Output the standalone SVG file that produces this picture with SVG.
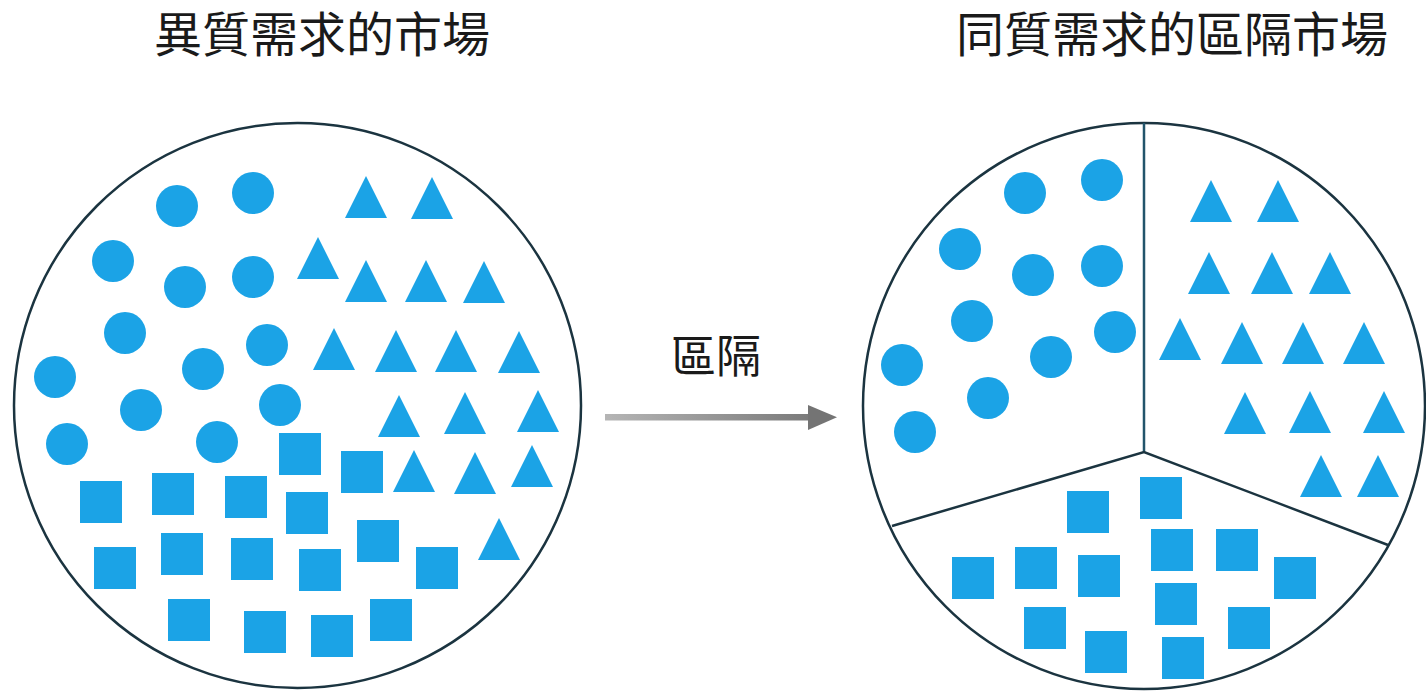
<svg xmlns="http://www.w3.org/2000/svg" xmlns:xlink="http://www.w3.org/1999/xlink" width="1426" height="694" viewBox="0 0 1426 694">
  <style>
    .title { font-family: "Liberation Sans", "Noto Sans CJK TC", sans-serif; font-size: 48px; fill: #1a1a1a; text-anchor: middle; }
    .label { font-family: "Liberation Sans", "Noto Sans CJK TC", sans-serif; font-size: 45px; fill: #1a1a1a; text-anchor: middle; }
    .market { fill: #ffffff; stroke: #1b3440; stroke-width: 2.5; }
    .divider { fill: none; stroke: #1b3440; stroke-width: 2.5; }
    .divider-v { fill: none; stroke: #22546b; stroke-width: 2.5; }
    .shape { fill: #1ba3e6; }
  </style>
  <defs>
    <circle id="dot" cx="0" cy="0" r="21" class="shape"/>
    <polygon id="tri" points="0,0 21,42 -21,42" class="shape"/>
    <rect id="sq" x="0" y="0" width="42" height="42" class="shape"/>
    <linearGradient id="arrowGrad" x1="0" y1="0" x2="1" y2="0">
      <stop offset="0" stop-color="#b5b5b5"/>
      <stop offset="1" stop-color="#7a7a7a"/>
    </linearGradient>
  </defs>
  <rect x="0" y="0" width="1426" height="694" fill="#ffffff"/>

  <g id="title-left">
    <text class="title" x="322" y="52">異質需求的市場</text>
  </g>
  <g id="title-right">
    <text class="title" x="1172" y="52">同質需求的區隔市場</text>
  </g>

  <g id="market-heterogeneous">
    <ellipse class="market" cx="297.5" cy="405.5" rx="283.5" ry="282.5"/>
    <g id="left-circles">
      <use xlink:href="#dot" x="177" y="206"/>
      <use xlink:href="#dot" x="253" y="193"/>
      <use xlink:href="#dot" x="113" y="261"/>
      <use xlink:href="#dot" x="185" y="287"/>
      <use xlink:href="#dot" x="253" y="277"/>
      <use xlink:href="#dot" x="125" y="333"/>
      <use xlink:href="#dot" x="267" y="345"/>
      <use xlink:href="#dot" x="203" y="369"/>
      <use xlink:href="#dot" x="55" y="377"/>
      <use xlink:href="#dot" x="141" y="410"/>
      <use xlink:href="#dot" x="280" y="405"/>
      <use xlink:href="#dot" x="67" y="444"/>
      <use xlink:href="#dot" x="217" y="442"/>
    </g>
    <g id="left-triangles">
      <use xlink:href="#tri" x="366" y="176"/>
      <use xlink:href="#tri" x="432" y="177"/>
      <use xlink:href="#tri" x="318" y="237"/>
      <use xlink:href="#tri" x="366" y="260"/>
      <use xlink:href="#tri" x="426" y="260"/>
      <use xlink:href="#tri" x="484" y="261"/>
      <use xlink:href="#tri" x="334" y="328"/>
      <use xlink:href="#tri" x="396" y="330"/>
      <use xlink:href="#tri" x="456" y="330"/>
      <use xlink:href="#tri" x="519" y="331"/>
      <use xlink:href="#tri" x="399" y="395"/>
      <use xlink:href="#tri" x="465" y="392"/>
      <use xlink:href="#tri" x="538" y="390"/>
      <use xlink:href="#tri" x="414" y="450"/>
      <use xlink:href="#tri" x="475" y="452"/>
      <use xlink:href="#tri" x="532" y="445"/>
      <use xlink:href="#tri" x="499" y="518"/>
    </g>
    <g id="left-squares">
      <use xlink:href="#sq" x="279" y="433"/>
      <use xlink:href="#sq" x="341" y="451"/>
      <use xlink:href="#sq" x="80" y="481"/>
      <use xlink:href="#sq" x="152" y="473"/>
      <use xlink:href="#sq" x="225" y="476"/>
      <use xlink:href="#sq" x="286" y="492"/>
      <use xlink:href="#sq" x="94" y="547"/>
      <use xlink:href="#sq" x="161" y="533"/>
      <use xlink:href="#sq" x="231" y="538"/>
      <use xlink:href="#sq" x="299" y="549"/>
      <use xlink:href="#sq" x="357" y="520"/>
      <use xlink:href="#sq" x="416" y="547"/>
      <use xlink:href="#sq" x="168" y="599"/>
      <use xlink:href="#sq" x="244" y="611"/>
      <use xlink:href="#sq" x="311" y="615"/>
      <use xlink:href="#sq" x="370" y="599"/>
    </g>
  </g>

  <g id="market-segmented">
    <ellipse class="market" cx="1144" cy="406" rx="281" ry="283"/>
    <line class="divider-v" x1="1144" y1="123" x2="1144" y2="452"/>
    <polyline class="divider" points="892,526 1144,452 1388,545"/>
    <g id="right-circles">
      <use xlink:href="#dot" x="1025" y="193"/>
      <use xlink:href="#dot" x="1102" y="180"/>
      <use xlink:href="#dot" x="960" y="249"/>
      <use xlink:href="#dot" x="1033" y="275"/>
      <use xlink:href="#dot" x="1102" y="266"/>
      <use xlink:href="#dot" x="972" y="321"/>
      <use xlink:href="#dot" x="1115" y="332"/>
      <use xlink:href="#dot" x="1051" y="357"/>
      <use xlink:href="#dot" x="902" y="365"/>
      <use xlink:href="#dot" x="988" y="398"/>
      <use xlink:href="#dot" x="915" y="432"/>
    </g>
    <g id="right-triangles">
      <use xlink:href="#tri" x="1211" y="180"/>
      <use xlink:href="#tri" x="1278" y="180"/>
      <use xlink:href="#tri" x="1209" y="252"/>
      <use xlink:href="#tri" x="1272" y="252"/>
      <use xlink:href="#tri" x="1330" y="252"/>
      <use xlink:href="#tri" x="1180" y="318"/>
      <use xlink:href="#tri" x="1242" y="322"/>
      <use xlink:href="#tri" x="1303" y="322"/>
      <use xlink:href="#tri" x="1364" y="322"/>
      <use xlink:href="#tri" x="1245" y="392"/>
      <use xlink:href="#tri" x="1310" y="391"/>
      <use xlink:href="#tri" x="1384" y="391"/>
      <use xlink:href="#tri" x="1321" y="455"/>
      <use xlink:href="#tri" x="1378" y="455"/>
    </g>
    <g id="right-squares">
      <use xlink:href="#sq" x="1067" y="491"/>
      <use xlink:href="#sq" x="1140" y="477"/>
      <use xlink:href="#sq" x="952" y="557"/>
      <use xlink:href="#sq" x="1015" y="547"/>
      <use xlink:href="#sq" x="1078" y="555"/>
      <use xlink:href="#sq" x="1151" y="529"/>
      <use xlink:href="#sq" x="1216" y="529"/>
      <use xlink:href="#sq" x="1274" y="557"/>
      <use xlink:href="#sq" x="1155" y="583"/>
      <use xlink:href="#sq" x="1024" y="607"/>
      <use xlink:href="#sq" x="1085" y="631"/>
      <use xlink:href="#sq" x="1162" y="637"/>
      <use xlink:href="#sq" x="1228" y="607"/>
    </g>
  </g>

  <g id="connectors">
    <rect x="605" y="414" width="206" height="6.5" fill="url(#arrowGrad)"/>
    <polygon points="808,405 837,417.3 808,430" fill="#747474"/>
    <text class="label" x="716" y="373">區隔</text>
  </g>
</svg>
